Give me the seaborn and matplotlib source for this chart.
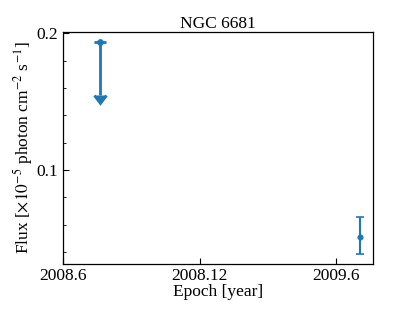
import numpy as np
import matplotlib
matplotlib.use('Agg')
import matplotlib.pyplot as plt
import seaborn as sns
from matplotlib.ticker import MultipleLocator

# =========================
# DATA
# =========================

# epochs in MJD
limit_mjd = [54668]
limit_flux = [0.194]
limit_len = [0.039]

det_mjd = [55015]
det_flux = [0.0512]
det_err_lo = [0.0129]
det_err_hi = [0.0146]

tick_mjd = [54618, 54801, 54983]
tick_labels = ['2008.6', '2008.12', '2009.6']

# =========================
# STYLE
# =========================

sns.set_style('ticks')
plt.rcParams['font.family'] = ['Liberation Serif', 'DejaVu Serif']
plt.rcParams['mathtext.fontset'] = 'stix'
plt.rcParams['xtick.direction'] = 'in'
plt.rcParams['ytick.direction'] = 'in'
plt.rcParams['axes.edgecolor'] = 'black'
plt.rcParams['xtick.color'] = 'black'
plt.rcParams['ytick.color'] = 'black'
plt.rcParams['text.color'] = 'black'
plt.rcParams['axes.labelcolor'] = 'black'

color = '#1f77b4'
fs = 12.5

fig = plt.figure(figsize=(4.15, 3.12), dpi=100)
ax = fig.add_axes([0.151, 0.154, 0.748, 0.744])

# upper limit
ax.errorbar(limit_mjd, limit_flux, yerr=limit_len, uplims=True,
            fmt='none', ecolor=color, elinewidth=2, capsize=4, capthick=2)
sns.scatterplot(x=limit_mjd, y=limit_flux, ax=ax, color=color, s=20,
                edgecolor=color, zorder=3)

# detection
ax.errorbar(det_mjd, det_flux, yerr=[det_err_lo, det_err_hi],
            fmt='none', ecolor=color, elinewidth=1.5, capsize=3, capthick=1.2)
sns.scatterplot(x=det_mjd, y=det_flux, ax=ax, color=color, s=16,
                edgecolor=color, zorder=3)

ax.set_xlim(54620, 55032)
ax.set_ylim(0.0312, 0.2012)
ax.set_xticks(tick_mjd)
ax.set_xticklabels(tick_labels)
ax.yaxis.set_major_locator(MultipleLocator(0.1))
ax.yaxis.set_minor_locator(MultipleLocator(0.02))
ax.tick_params(labelsize=fs, length=4, width=0.8, pad=3)
ax.tick_params(which='minor', length=2.5, width=0.6)

for s in ax.spines.values():
    s.set_linewidth(0.9)
    s.set_visible(True)

ax.set_title('NGC 6681', fontsize=fs, pad=2)
ax.set_xlabel('Epoch [year]', fontsize=fs, labelpad=0)
ax.set_ylabel(r'Flux [$\times10^{-5}$ photon cm$^{-2}$ s$^{-1}$]', fontsize=fs,
              labelpad=1)

fig.savefig('out.png', dpi=100)
